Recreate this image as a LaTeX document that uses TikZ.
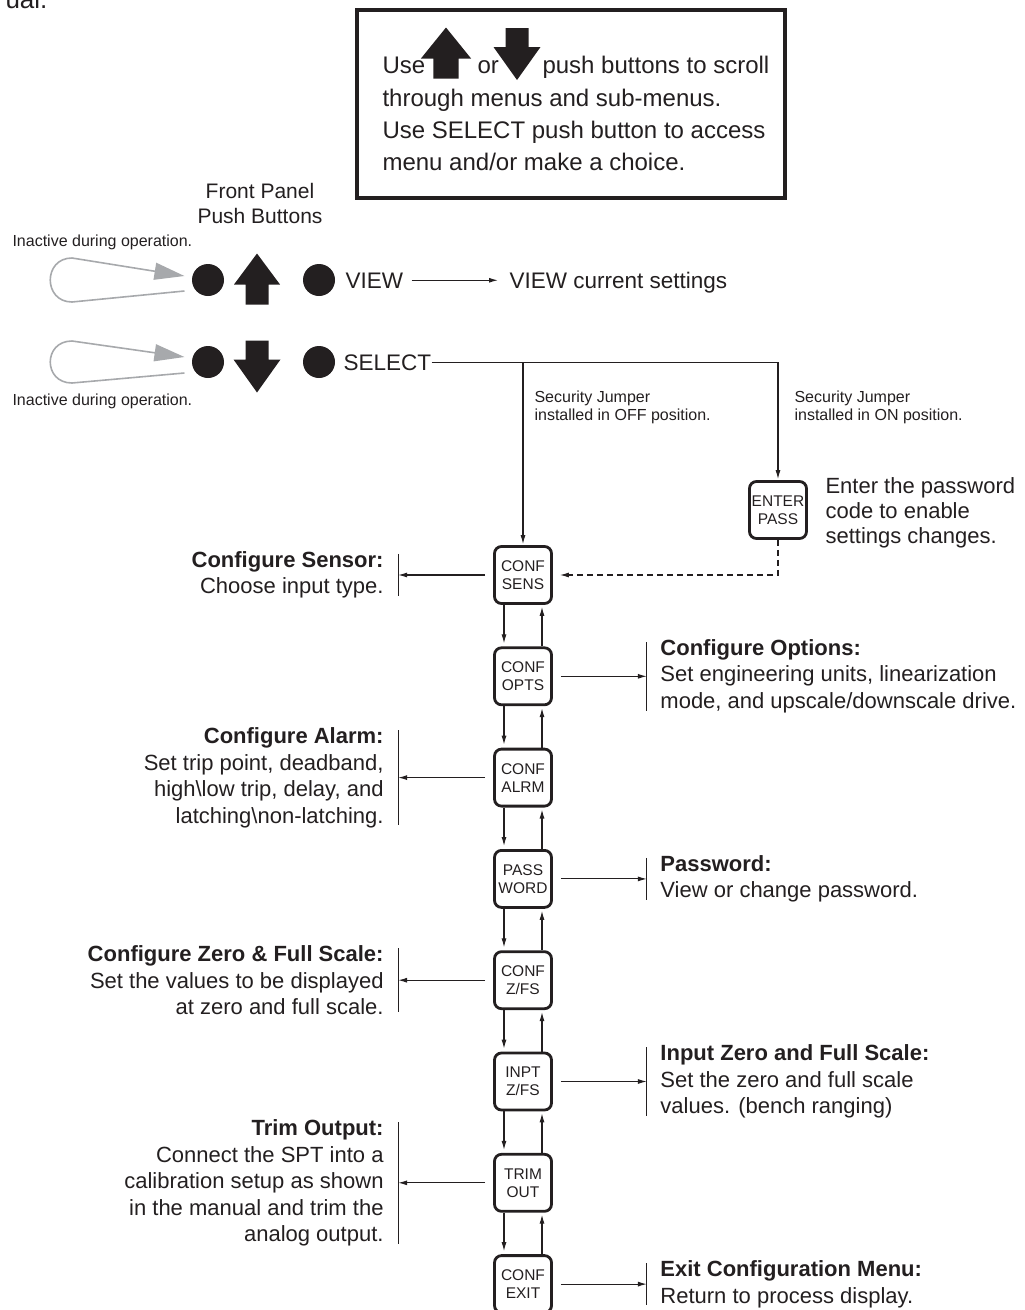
\documentclass[tikz,border=0pt]{standalone}
\usepackage{fontspec}
\setmainfont{Liberation Sans}
\usetikzlibrary{arrows.meta}
\usetikzlibrary{positioning}

\definecolor{ink}{HTML}{231F20}
\definecolor{loopgray}{HTML}{A7A9AC}

\tikzset{
  key up/.pic={\fill (0,-25) -- (23,6) -- (11.5,6) -- (11.5,26) -- (-11.5,26) -- (-11.5,6) -- (-23,6) -- cycle;},
  key down/.pic={\fill (0,26) -- (23.5,-7) -- (11.5,-7) -- (11.5,-26) -- (-11.5,-26) -- (-11.5,-7) -- (-23.5,-7) -- cycle;},
}

\begin{document}
\begin{tikzpicture}[x=1pt, y=-1pt, color=ink, line width=1.1pt,
  node distance=41.5pt,
  big/.style={inner sep=0pt, font=\fontsize{24}{32}\selectfont},
  mid/.style={inner sep=0pt, font=\fontsize{22.5}{27}\selectfont},
  small/.style={inner sep=0pt, font=\fontsize{16}{18}\selectfont},
  note/.style={inner sep=0pt, font=\fontsize{22}{26.5}\selectfont},
  menu/.style={draw, line width=2.8pt, rounded corners=7pt, minimum width=57pt,
    minimum height=57pt, inner sep=0pt, align=center, font=\fontsize{15.5}{18}\selectfont},
  dot/.style={circle, fill, minimum size=32pt, inner sep=0pt},
  link/.style={-{Latex[length=9pt,width=5pt]}},
  idlearrow/.style={draw=loopgray, line width=1.6pt, -{Triangle[length=30pt,width=17pt]}},
]
\useasboundingbox (0,0) rectangle (1025,1310);

% end of the sentence above, cut by the page
\node[anchor=base east, inner sep=0pt, font=\fontsize{26}{30}\selectfont] (tail) at (48,8) {ual.};

% help box
\node[draw, line width=4pt, minimum width=428pt, minimum height=188pt] (help) at (571,104) {};
\node[big, anchor=base west] (use) at (382,73.5) {Use};
\pic[xscale=1.09] at (446,52.5) {key up};
\node[big, anchor=base west] (or) at (477,73.5) {or};
\pic at (517,54) {key down};
\node[big, anchor=base west] (scroll) at (542,73.5) {push buttons to scroll};
\node[big, anchor=base west] (menus) at (382,106) {through menus and sub-menus.};
\node[big, anchor=base west] (access) at (382,138.5) {Use SELECT push button to access};
\node[big, anchor=base west] (choice) at (382,170) {menu and/or make a choice.};

% push buttons
\node[anchor=north, inner sep=0pt, align=center, font=\fontsize{21}{25}\selectfont] (panel) at (260,183) {Front Panel\\Push Buttons};
\node[small, anchor=base west] (idle1) at (12,246) {Inactive during operation.};
\node[small, anchor=base west] (idle2) at (12,405) {Inactive during operation.};

\node[dot] (vdot) at (208,280) {};
\pic at (257,278.5) {key up};
\node[dot] (vbtn) at (319,280) {};
\node[mid, anchor=base west] (view) at (345,288) {VIEW};
\node[mid, anchor=base west] (cur) at (509,288) {VIEW current settings};

\node[dot] (sdot) at (208,362) {};
\pic at (257,366.5) {key down};
\node[dot] (sbtn) at (319,362) {};
\node[mid, anchor=base west] (sel) at (343,370) {SELECT};

\draw[idlearrow] ([shift={(-7,11)}]vdot.west) -- (72,302) .. controls (43,302) and (43,258) .. (72,258) -- ([shift={(-7,-4)}]vdot.west);
\draw[idlearrow] ([shift={(-7,11)}]sdot.west) -- (72,383) .. controls (43,383) and (43,341) .. (72,341) -- ([shift={(-7,-5)}]sdot.west);
\draw[link, shorten <=8pt, shorten >=11pt] (view.east) -- (view.east -| cur.west);

% menus
\node[menu] (sens) at (523,575) {CONF\\SENS};
\node[menu, below=of sens] (opts) {CONF\\OPTS};
\node[menu, below=of opts] (alrm) {CONF\\ALRM};
\node[menu, below=of alrm] (pass) {PASS\\WORD};
\node[menu, below=of pass] (zfs) {CONF\\Z/FS};
\node[menu, below=of zfs] (inpt) {INPT\\Z/FS};
\node[menu, below=of inpt] (trim) {TRIM\\OUT};
\node[menu, below=of trim] (exit) {CONF\\EXIT};
\node[menu] (enter) at (778,510) {ENTER\\PASS};

\node[small, anchor=north west, align=left] (offjmp) at (534,390) {Security Jumper\\installed in OFF position.};
\node[small, anchor=north west, align=left] (onjmp) at (794,390) {Security Jumper\\installed in ON position.};
\node[note, anchor=north west, align=left, font=\fontsize{22}{25}\selectfont] (entertxt) at (825,477) {Enter the password\\code to enable\\settings changes.};

\draw[link, shorten >=1pt] (sel.east) -| (enter.north);
\draw[link, shorten >=1pt] (sel.east -| sens.north) -- (sens.north);
\draw[link, dash pattern=on 6pt off 4pt, shorten >=7pt] (enter.south) |- (sens.east);

\foreach \a/\b in {sens/opts, opts/alrm, alrm/pass, pass/zfs, zfs/inpt, inpt/trim, trim/exit} {
  \draw[link, shorten >=3pt] ([xshift=-19pt]\a.south) -- ([xshift=-19pt]\b.north);
  \draw[link, shorten >=2pt] ([xshift=19pt]\b.north) -- ([xshift=19pt]\a.south);
}

% descriptions
\node[note, align=right, left=109pt of sens] (nsens) {\textbf{Configure Sensor:}\\Choose input type.};
\node[note, align=left, right=107pt of opts] (nopts) {\textbf{Configure Options:}\\Set engineering units, linearization\\mode, and upscale/downscale drive.};
\node[note, align=right, left=109pt of alrm] (nalrm) {\textbf{Configure Alarm:}\\Set trip point, deadband,\\high\textbackslash low trip, delay, and\\latching\textbackslash non-latching.};
\node[note, align=left, right=107pt of pass] (npass) {\textbf{Password:}\\View or change password.};
\node[note, align=right, left=109pt of zfs] (nzfs) {\textbf{Configure Zero \& Full Scale:}\\Set the values to be displayed\\at zero and full scale.};
\node[note, align=left, right=107pt of inpt] (ninpt) {\textbf{Input Zero and Full Scale:}\\Set the zero and full scale\\values. (bench ranging)};
\node[note, align=right, left=109pt of trim] (ntrim) {\textbf{Trim Output:}\\Connect the SPT into a\\calibration setup as shown\\in the manual and trim the\\analog output.};
\node[note, align=left, right=107pt of exit] (nexit) {\textbf{Exit Configuration Menu:}\\Return to process display.};

\foreach \m in {sens, alrm, zfs, trim} {
  \draw ([xshift=14pt,yshift=-3pt]n\m.north east) coordinate (t\m) -- ([xshift=14pt,yshift=3pt]n\m.south east);
  \draw[link, shorten <=8pt] (\m.west) -- (\m.west -| t\m);
}
\foreach \m in {opts, pass, inpt, exit} {
  \draw ([xshift=-13pt,yshift=-3pt]n\m.north west) coordinate (t\m) -- ([xshift=-13pt,yshift=3pt]n\m.south west);
  \draw[link, shorten <=8pt] (\m.east) -- (\m.east -| t\m);
}
\end{tikzpicture}
\end{document}
